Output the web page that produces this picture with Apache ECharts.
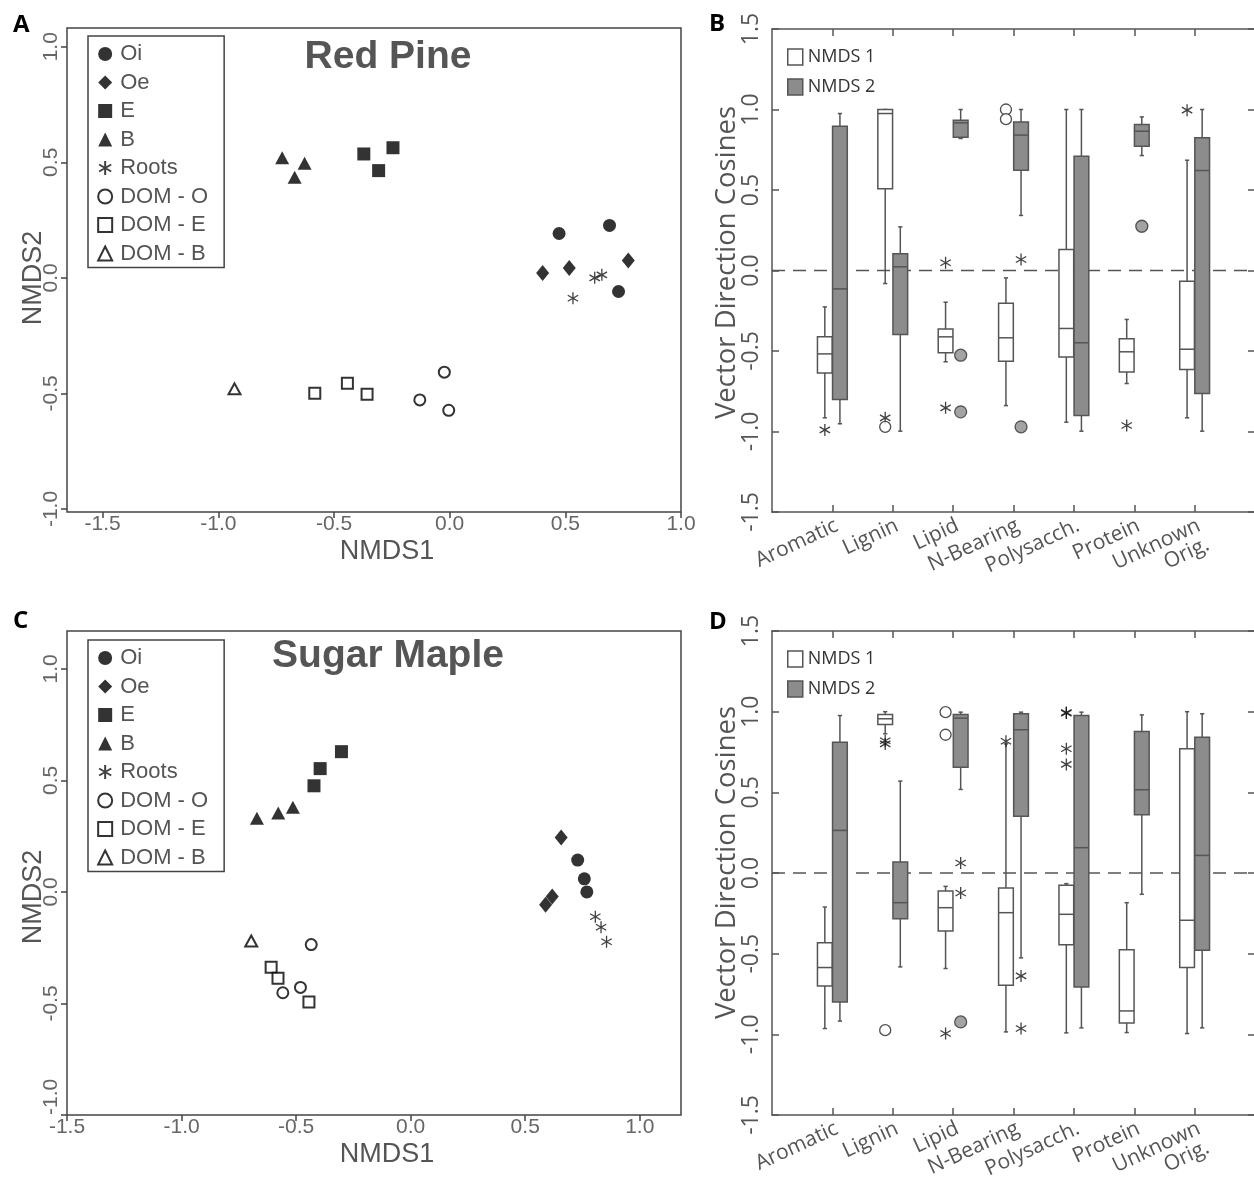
<!DOCTYPE html>
<html>
<head>
<meta charset="utf-8">
<title>NMDS ordination and vector direction cosines</title>
<script src="https://cdn.jsdelivr.net/npm/echarts@6.0.0/dist/echarts.min.js"></script>
<style>
  html, body { margin: 0; padding: 0; background: #fff; }
  #main { width: 1254px; height: 1186px; }
</style>
</head>
<body>
<div id="main"></div>
<script>
// ---- scatter panels (A: Red Pine, C: Sugar Maple), points are [NMDS1, NMDS2]
var groups = ['Oi', 'Oe', 'E', 'B', 'Roots', 'DOM - O', 'DOM - E', 'DOM - B'];

var pineOi = [[0.473, 0.192], [0.691, 0.227], [0.730, -0.059]];
var pineOe = [[0.402, 0.021], [0.517, 0.043], [0.772, 0.075]];
var pineE = [[-0.371, 0.536], [-0.307, 0.464], [-0.245, 0.563]];
var pineB = [[-0.724, 0.520], [-0.670, 0.435], [-0.627, 0.496]];
var pineRoots = [[0.627, 0.000], [0.658, 0.013], [0.533, -0.088]];
var pineDomO = [[-0.023, -0.408], [-0.129, -0.528], [-0.004, -0.573]];
var pineDomE = [[-0.583, -0.499], [-0.442, -0.456], [-0.357, -0.504]];
var pineDomB = [[-0.930, -0.480]];

var mapleOi = [[0.729, 0.143], [0.758, 0.059], [0.769, 0.000]];
var mapleOe = [[0.657, 0.244], [0.618, -0.020], [0.589, -0.057]];
var mapleE = [[-0.422, 0.476], [-0.395, 0.553], [-0.302, 0.629]];
var mapleB = [[-0.671, 0.330], [-0.578, 0.354], [-0.514, 0.380]];
var mapleRoots = [[0.806, -0.111], [0.831, -0.158], [0.855, -0.223]];
var mapleDomO = [[-0.434, -0.236], [-0.481, -0.428], [-0.558, -0.452]];
var mapleDomE = [[-0.609, -0.338], [-0.579, -0.387], [-0.444, -0.493]];
var mapleDomB = [[-0.696, -0.220]];

var nmdsXTicks = [-1.5, -1.0, -0.5, 0.0, 0.5, 1.0];
var nmdsYTicks = [-1.0, -0.5, 0.0, 0.5, 1.0];

// ---- box plot panels (B: Red Pine, D: Sugar Maple)
var categories = ['Aromatic', 'Lignin', 'Lipid', 'N-Bearing', 'Polysacch.', 'Protein', 'Unknown\nOrig.'];
var catTicks = [1, 2, 3, 4, 5, 6, 7];
var catLabelSlots = [0, 1, 2, 3, 4, 5, 6, 7, 8]; // 0 and 8 stay blank
var zeroLine = [[0, 0], [8, 0]];

// [lower whisker, Q1, median, Q3, upper whisker] per category
var pineNmds1 = [
  [-0.915, -0.636, -0.518, -0.412, -0.226],
  [-0.081, 0.507, 0.975, 1.000, 1.000],
  [-0.567, -0.511, -0.412, -0.364, -0.197],
  [-0.839, -0.563, -0.418, -0.203, -0.046],
  [-0.942, -0.538, -0.360, 0.130, 1.000],
  [-0.702, -0.631, -0.505, -0.424, -0.304],
  [-0.915, -0.615, -0.489, -0.066, 0.685]
];
var pineNmds2 = [
  [-0.952, -0.801, -0.114, 0.896, 0.975],
  [-0.998, -0.398, 0.023, 0.104, 0.271],
  [0.820, 0.828, 0.917, 0.934, 1.000],
  [0.342, 0.623, 0.841, 0.923, 1.000],
  [-0.998, -0.900, -0.449, 0.710, 1.000],
  [0.714, 0.772, 0.865, 0.907, 0.954],
  [-0.998, -0.764, 0.621, 0.824, 1.000]
];
// outliers: [category number, 1 = NMDS 1 | 2 = NMDS 2, value]
var pineStars = [[1, 1, -0.990], [2, 1, -0.915], [3, 1, 0.048], [3, 1, -0.853], [4, 2, 0.068], [6, 1, -0.963], [7, 1, 0.996]];
var pineOpen = [[2, 1, -0.971], [4, 1, 1.000], [4, 1, 0.940]];
var pineFilled = [[3, 2, -0.526], [3, 2, -0.878], [4, 2, -0.971], [6, 2, 0.275]];

var mapleNmds1 = [
  [-0.964, -0.700, -0.586, -0.433, -0.211],
  [0.863, 0.920, 0.956, 0.982, 1.000],
  [-0.592, -0.359, -0.215, -0.111, -0.083],
  [-0.985, -0.696, -0.246, -0.093, 0.800],
  [-0.991, -0.444, -0.256, -0.076, -0.066],
  [-0.989, -0.929, -0.855, -0.475, -0.184],
  [-0.995, -0.586, -0.293, 0.770, 1.000]
];
var mapleNmds2 = [
  [-0.918, -0.799, 0.264, 0.811, 0.976],
  [-0.582, -0.283, -0.184, 0.068, 0.570],
  [0.518, 0.656, 0.960, 0.982, 0.997],
  [-0.526, 0.351, 0.888, 0.987, 0.997],
  [-0.960, -0.706, 0.157, 0.976, 0.997],
  [-0.132, 0.361, 0.516, 0.877, 0.980],
  [-0.960, -0.479, 0.109, 0.842, 0.987]
];
var mapleStars = [[2, 1, 0.820], [2, 1, 0.800], [3, 1, -0.995], [3, 2, 0.062], [3, 2, -0.124], [4, 1, 0.817],
  [4, 2, -0.638], [4, 2, -0.964], [5, 1, 0.991], [5, 1, 0.995], [5, 1, 0.770], [5, 1, 0.673]];
var mapleOpen = [[2, 1, -0.974], [3, 1, 0.997], [3, 1, 0.857]];
var mapleFilled = [[3, 2, -0.923]];

// ---- styles
var SANS = '"Liberation Sans", Arial, sans-serif';
var OPEN = '"Open Sans", "Noto Sans", sans-serif';
var EDGE = '#555';
var GREY = '#8c8c8c';
var STAR = 'path://M5,0L5,10M0.67,2.5L9.33,7.5M0.67,7.5L9.33,2.5';
var BOX_OFF = 0.125, BOX_HALF = 0.122, CAP_HALF = 0.035;

var markers = [
  { symbol: 'circle', symbolSize: 13, itemStyle: { color: '#000' } },
  { symbol: 'diamond', symbolSize: [13, 16], itemStyle: { color: '#000' } },
  { symbol: 'rect', symbolSize: 13, itemStyle: { color: '#000' } },
  { symbol: 'triangle', symbolSize: [14, 13], itemStyle: { color: '#000' } },
  { symbol: STAR, symbolSize: 12, itemStyle: { color: 'none', borderColor: '#111', borderWidth: 1.3 } },
  { symbol: 'emptyCircle', symbolSize: 11, itemStyle: { color: '#000', borderWidth: 1.4 } },
  { symbol: 'emptyRect', symbolSize: 11, itemStyle: { color: '#000', borderWidth: 1.4 } },
  { symbol: 'emptyTriangle', symbolSize: [12, 11], itemStyle: { color: '#000', borderWidth: 1.4 } }
];

function fmt1(v) { return Number(v).toFixed(1); }
function catLabel(v) { return categories[Math.round(v) - 1] || ''; }

var chart = echarts.init(document.getElementById('main'));

var grids = [
  { left: 67, top: 28, width: 614, height: 484, show: true, borderColor: '#444', borderWidth: 1.5 },
  { left: 772, top: 29, width: 483, height: 483 },
  { left: 67, top: 631, width: 614, height: 484, show: true, borderColor: '#444', borderWidth: 1.5 },
  { left: 772, top: 631, width: 483, height: 484 }
];
grids.forEach(function (g) { g.containLabel = false; g.outerBoundsMode = 'none'; });

function nmdsX(gi, min, max) {
  return {
    gridIndex: gi, type: 'value', min: min, max: max,
    axisLine: { show: false, onZero: false }, splitLine: { show: false },
    axisTick: { show: true, length: 6, customValues: nmdsXTicks, lineStyle: { color: '#444', width: 1.5 } },
    axisLabel: { customValues: nmdsXTicks, formatter: fmt1, fontSize: 21, color: '#666', margin: 2, fontFamily: SANS,
      showMinLabel: true, showMaxLabel: true },
    name: 'NMDS1', nameLocation: 'middle', nameGap: 26, nameMoveOverlap: false,
    nameTextStyle: { fontSize: 27, color: '#555', fontFamily: SANS, padding: [0, 0, 0, 26] }
  };
}
// nameShift moves the axis name down along the axis, as in the reference
function nmdsY(gi, min, max, nameShift, minAlign) {
  return {
    gridIndex: gi, type: 'value', min: min, max: max,
    axisLine: { show: false, onZero: false }, splitLine: { show: false },
    axisTick: { show: true, length: 6, customValues: nmdsYTicks, lineStyle: { color: '#444', width: 1.5 } },
    axisLabel: { customValues: nmdsYTicks, formatter: fmt1, fontSize: 21, color: '#666', margin: 5, rotate: 90, fontFamily: SANS,
      showMinLabel: true, showMaxLabel: true, alignMinLabel: minAlign },
    name: 'NMDS2', nameLocation: 'middle', nameGap: 20, nameMoveOverlap: false,
    nameTextStyle: { fontSize: 27, color: '#555', fontFamily: SANS, padding: [0, nameShift, 0, 0] }
  };
}
function boxX(gi, pos, labels) {
  return {
    gridIndex: gi, type: 'value', min: 0, max: 8, position: pos,
    axisLine: { show: true, onZero: false, lineStyle: { color: EDGE, width: 1.5 } },
    splitLine: { show: false },
    axisTick: { show: true, inside: true, length: 7, customValues: catTicks, lineStyle: { color: EDGE, width: 1.5 } },
    axisLabel: labels ? { customValues: catLabelSlots, formatter: catLabel, rotate: 25, margin: 3, fontSize: 21,
      verticalAlign: 'top', color: '#555', fontFamily: OPEN, lineHeight: 21, hideOverlap: false } : { show: false }
  };
}
// nameLift moves the axis name up along the axis
function boxY(gi, pos, labels, nameLift) {
  var ax = {
    gridIndex: gi, type: 'value', min: -1.5, max: 1.5, interval: 0.5, position: pos,
    axisLine: { show: true, onZero: false, lineStyle: { color: EDGE, width: 1.5 } },
    splitLine: { show: false },
    axisTick: { show: true, inside: true, length: 7, lineStyle: { color: EDGE, width: 1.5 } },
    axisLabel: labels ? { formatter: fmt1, rotate: 90, margin: 9, fontSize: 23, color: '#555', fontFamily: OPEN,
      showMinLabel: true, showMaxLabel: true } : { show: false }
  };
  if (labels) {
    ax.name = 'Vector Direction Cosines';
    ax.nameLocation = 'middle';
    ax.nameGap = 31;
    ax.nameMoveOverlap = false;
    ax.nameTextStyle = { fontSize: 27.5, color: '#555', fontFamily: OPEN, padding: [0, 0, 0, nameLift] };
  }
  return ax;
}

var xAxes = [nmdsX(0, -1.654, 1.0), boxX(1, 'bottom', true), boxX(1, 'top', false),
  nmdsX(2, -1.5, 1.18), boxX(3, 'bottom', true), boxX(3, 'top', false)];
var yAxes = [nmdsY(0, -1.013, 1.081, 16), boxY(1, 'left', true, 16), boxY(1, 'right', false),
  nmdsY(2, -1.0, 1.17, 48, 'left'), boxY(3, 'left', true, 21), boxY(3, 'right', false)];

var series = [];

function addScatterPanel(sets, xi, yi) {
  sets.forEach(function (pts, i) {
    var m = markers[i];
    series.push({
      type: 'scatter', name: groups[i], xAxisIndex: xi, yAxisIndex: yi,
      data: pts, symbol: m.symbol, symbolSize: m.symbolSize, symbolKeepAspect: true,
      itemStyle: m.itemStyle, silent: true, z: 3
    });
  });
}
addScatterPanel([pineOi, pineOe, pineE, pineB, pineRoots, pineDomO, pineDomE, pineDomB], 0, 0);
addScatterPanel([mapleOi, mapleOe, mapleE, mapleB, mapleRoots, mapleDomO, mapleDomE, mapleDomB], 3, 3);

function boxItem(side, fill) {
  return function (params, api) {
    var x = api.value(0) + side * BOX_OFF;
    var lo = api.value(1), q1 = api.value(2), med = api.value(3), q3 = api.value(4), hi = api.value(5);
    var tl = api.coord([x - BOX_HALF, q3]);
    var br = api.coord([x + BOX_HALF, q1]);
    var top = api.coord([x, hi]), bot = api.coord([x, lo]);
    var mL = api.coord([x - BOX_HALF, med]), mR = api.coord([x + BOX_HALF, med]);
    var capL = api.coord([x - CAP_HALF, hi])[0], capR = api.coord([x + CAP_HALF, hi])[0];
    function seg(x1, y1, x2, y2) {
      return { type: 'line', shape: { x1: x1, y1: y1, x2: x2, y2: y2 }, style: { stroke: EDGE, lineWidth: 1.5 } };
    }
    return {
      type: 'group', children: [
        seg(top[0], top[1], top[0], tl[1]),
        seg(bot[0], br[1], bot[0], bot[1]),
        seg(capL, top[1], capR, top[1]),
        seg(capL, bot[1], capR, bot[1]),
        { type: 'rect', shape: { x: tl[0], y: tl[1], width: br[0] - tl[0], height: br[1] - tl[1] },
          style: { fill: fill, stroke: EDGE, lineWidth: 1.5 } },
        seg(mL[0], mL[1], mR[0], mR[1])
      ]
    };
  };
}

function outlierData(list) {
  return list.map(function (o) { return [o[0] + (o[1] === 1 ? -BOX_OFF : BOX_OFF), o[2]]; });
}

function addBoxPanel(n1, n2, stars, open, filled, xi, yi) {
  series.push({
    type: 'line', xAxisIndex: xi, yAxisIndex: yi, data: zeroLine, symbol: 'none', silent: true, z: 1,
    lineStyle: { color: EDGE, width: 1.5, type: [13, 8] }
  });
  [[n1, -1, '#fff', 'NMDS 1'], [n2, 1, GREY, 'NMDS 2']].forEach(function (s) {
    series.push({
      type: 'custom', name: s[3], xAxisIndex: xi, yAxisIndex: yi, z: 3, clip: false, silent: true,
      itemStyle: { color: s[2], borderColor: EDGE, borderWidth: 1.5 },
      renderItem: boxItem(s[1], s[2]),
      encode: { x: 0, y: [1, 2, 3, 4, 5] },
      data: s[0].map(function (r, i) { return [i + 1].concat(r); })
    });
  });
  series.push({
    type: 'scatter', xAxisIndex: xi, yAxisIndex: yi, z: 4, silent: true, data: outlierData(stars),
    symbol: STAR, symbolSize: 12, symbolKeepAspect: true,
    itemStyle: { color: 'none', borderColor: '#111', borderWidth: 1.3 }
  });
  series.push({
    type: 'scatter', xAxisIndex: xi, yAxisIndex: yi, z: 4, silent: true, data: outlierData(open),
    symbol: 'circle', symbolSize: 11, itemStyle: { color: '#fff', borderColor: '#222', borderWidth: 1.3 }
  });
  series.push({
    type: 'scatter', xAxisIndex: xi, yAxisIndex: yi, z: 4, silent: true, data: outlierData(filled),
    symbol: 'circle', symbolSize: 12, itemStyle: { color: GREY, borderColor: '#333', borderWidth: 1.3 }
  });
}
addBoxPanel(pineNmds1, pineNmds2, pineStars, pineOpen, pineFilled, 1, 1);
addBoxPanel(mapleNmds1, mapleNmds2, mapleStars, mapleOpen, mapleFilled, 4, 4);

function groupLegend(top) {
  return {
    orient: 'vertical', left: 88, top: top, padding: [7, 16, 3, 8.6],
    itemWidth: 14, itemHeight: 14, itemGap: 6.5, selectedMode: false,
    borderColor: '#444', borderWidth: 1.5,
    textStyle: { fontSize: 22, color: '#555', fontFamily: SANS, padding: [0, 0, 0, 3] },
    data: groups
  };
}
function boxLegend(top) {
  return {
    orient: 'vertical', left: 787, top: top, padding: 0,
    itemWidth: 15, itemHeight: 16, itemGap: 12, selectedMode: false,
    textStyle: { fontSize: 18, color: '#333', fontFamily: OPEN, lineHeight: 16 },
    data: [
      { name: 'NMDS 1', icon: 'rect', itemStyle: { color: '#fff', borderColor: EDGE, borderWidth: 1.5 } },
      { name: 'NMDS 2', icon: 'rect', itemStyle: { color: GREY, borderColor: EDGE, borderWidth: 1.5 } }
    ]
  };
}

function label(text, x, y, font, fill, align) {
  return { type: 'text', x: x, y: y, silent: true,
    style: { text: text, font: font, fill: fill, align: align || 'left', verticalAlign: 'middle' } };
}

var option = {
  backgroundColor: '#fff',
  animation: false,
  grid: grids,
  xAxis: xAxes,
  yAxis: yAxes,
  legend: [groupLegend(36), boxLegend(48), groupLegend(640), boxLegend(650)],
  graphic: [
    label('A', 13, 25, 'bold 24px ' + OPEN, '#000'),
    label('B', 709, 24, 'bold 24px ' + OPEN, '#000'),
    label('C', 13, 621, 'bold 24px ' + OPEN, '#000'),
    label('D', 709, 622, 'bold 24px ' + OPEN, '#000'),
    label('Red Pine', 388, 57, 'bold 39px ' + SANS, '#555', 'center'),
    label('Sugar Maple', 388, 656, 'bold 39px ' + SANS, '#555', 'center')
  ],
  series: series
};

chart.setOption(option);
</script>
</body>
</html>
